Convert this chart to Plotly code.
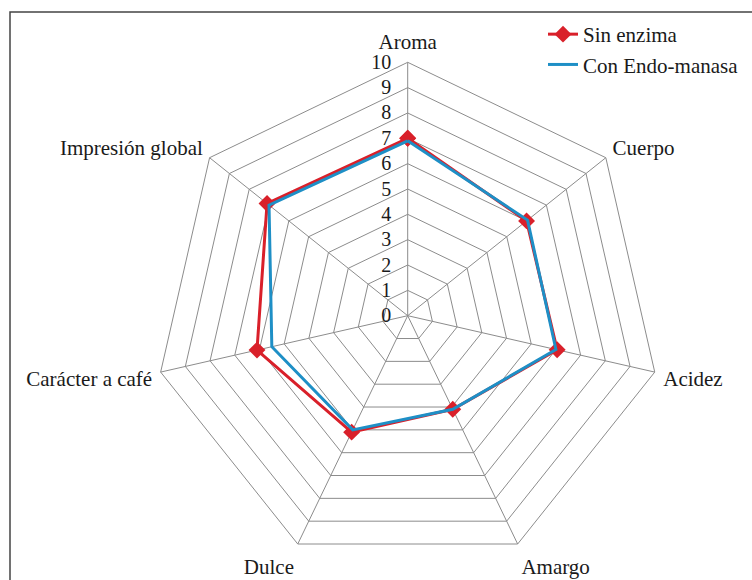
import plotly.graph_objects as go

categories = ["Aroma", "Cuerpo", "Acidez", "Amargo", "Dulce", "Carácter a café", "Impresión global"]
sin_enzima = [7.0, 6.0, 6.05, 4.1, 5.1, 6.1, 7.1]
con_endo = [6.9, 6.05, 6.0, 4.1, 5.0, 5.5, 7.0]
radial_ticks = list(range(0, 11))

FONT = "Liberation Serif"
RED = "#D9202A"
BLUE = "#1E8FC6"
GRID = "#8C8C8C"

theta = categories + [categories[0]]

fig = go.Figure()
fig.add_trace(go.Scatterpolar(
    r=sin_enzima + [sin_enzima[0]], theta=theta, name="Sin enzima",
    mode="lines+markers",
    line=dict(color=RED, width=3),
    marker=dict(symbol="diamond", size=13, color=RED),
))
fig.add_trace(go.Scatterpolar(
    r=con_endo + [con_endo[0]], theta=theta, name="Con Endo-manasa",
    mode="lines",
    line=dict(color=BLUE, width=3),
))

cx, cy, R = 407.7, 315.7, 253.4
W, H = 752, 580

fig.update_layout(
    width=W, height=H,
    margin=dict(l=0, r=0, t=0, b=0),
    paper_bgcolor="white",
    font=dict(family=FONT, size=21, color="#1a1a1a"),
    polar=dict(
        domain=dict(x=[(cx - R) / W, (cx + R) / W], y=[(H - cy - R) / H, (H - cy + R) / H]),
        bgcolor="white",
        gridshape="linear",
        angularaxis=dict(
            direction="clockwise", rotation=90,
            showline=True, linecolor=GRID, linewidth=1,
            gridcolor=GRID, gridwidth=1,
            ticks="outside", ticklen=4, tickcolor="rgba(0,0,0,0)",
            tickfont=dict(family=FONT, size=21, color="#1a1a1a"),
        ),
        radialaxis=dict(
            range=[0, 10], tickvals=radial_ticks, angle=90, side="counterclockwise",
            tickangle=90,
            showline=False, ticks="outside", ticklen=9, tickcolor="rgba(0,0,0,0)",
            gridcolor=GRID, gridwidth=1,
            tickfont=dict(family=FONT, size=20, color="#1a1a1a"),
        ),
    ),
    showlegend=True,
    legend=dict(
        x=543 / W, y=1 - 14 / H, xanchor="left", yanchor="top",
        bgcolor="rgba(0,0,0,0)", font=dict(family=FONT, size=21, color="#1a1a1a"),
        tracegroupgap=0,
    ),
    shapes=[dict(
        type="rect", xref="paper", yref="paper",
        x0=10 / W, x1=1.02, y0=-0.02, y1=1 - 12 / H,
        line=dict(color="#444444", width=1.5), fillcolor="rgba(0,0,0,0)", layer="below",
    )],
)

fig.write_html("out.html")
